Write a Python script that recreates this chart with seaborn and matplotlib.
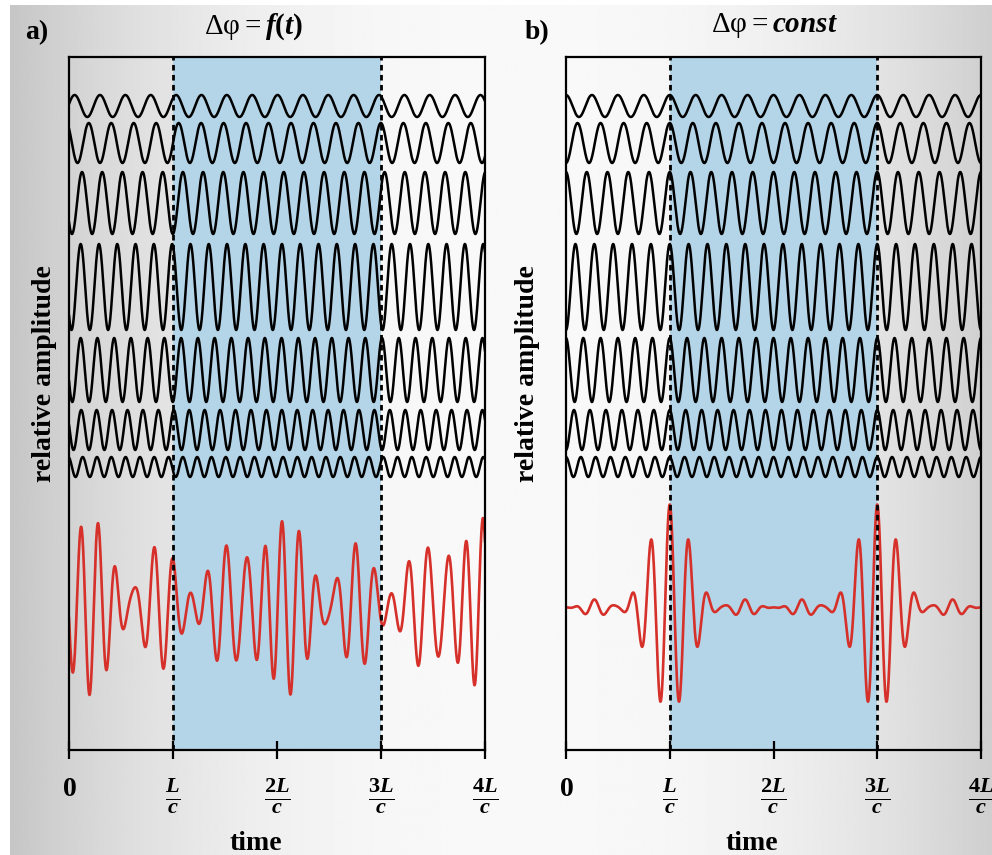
import numpy as np
import pandas as pd
import matplotlib
matplotlib.use('Agg')
import matplotlib.pyplot as plt
import seaborn as sns

# half-heights of the seven black mode traces, top to bottom (px)
mode_amp = [11, 20, 31, 43, 32, 20, 10]

# panel a: free-running modes (frequency in cycles per L/c, phase in rad)
freq_a = [4.1, 4.628, 5.156, 5.684, 6.212, 6.74, 7.268]
phase_a = [4.89, 0.76, 2.22, 2.28, 1.90, 1.30, 0.27]
# weights of each mode in the red sum of panel a (px)
red_amp_a = [12.5, 8.8, 3.7, 45.5, 11.3, 15.6, 12.5]

# panel b: locked modes, all in phase at t = L/c
freq_b = [4.0, 4.5, 5.0, 5.5, 6.0, 6.5, 7.0]
lock_time = 1.0
red_scale_b = 0.62

tick_pos = [0, 1, 2, 3, 4]
tick_labels = [r'$\mathbf{0}$', r'$\frac{\mathit{L}}{\mathit{c}}$',
               r'$\frac{\mathbf{2}\mathit{L}}{\mathit{c}}$',
               r'$\frac{\mathbf{3}\mathit{L}}{\mathit{c}}$',
               r'$\frac{\mathbf{4}\mathit{L}}{\mathit{c}}$']

# layout (vertical positions inside the axes, px from bottom)
wave_base = [644, 607, 547, 463, 380, 320, 283]
red_base_a = 143.6
red_base_b = 142

sns.set_theme(style='white')
plt.rcParams['font.family'] = ['Liberation Serif', 'DejaVu Serif']
plt.rcParams['mathtext.fontset'] = 'custom'
plt.rcParams['mathtext.rm'] = 'Liberation Serif'
plt.rcParams['mathtext.it'] = 'Liberation Serif:italic:bold'
plt.rcParams['mathtext.bf'] = 'Liberation Serif:bold'

W, H = 992, 855
fig = plt.figure(figsize=(W / 100, H / 100), dpi=100, facecolor='white')

# grey backdrop, lighter in the middle
bg = fig.add_axes([10 / W, 0, 1 - 10 / W, 1 - 5 / H], zorder=-5)
xx = np.linspace(10, W, 600)
u = np.abs(xx - 520) / 510
shade = 0.975 - 0.2 * u ** 2.4
bg.imshow(np.tile(shade, (2, 1)), cmap='gray', vmin=0, vmax=1,
          aspect='auto', extent=[0, 1, 0, 1])
bg.axis('off')

t = np.linspace(0, 4, 2400)


def draw_panel(ax, freqs, phases, red):
    ax.set_facecolor('none')
    ax.axvspan(1, 3, color='#b4d4e7', lw=0, zorder=0)
    for A, f, p, base in zip(mode_amp, freqs, phases, wave_base):
        yv = base + A * np.cos(2 * np.pi * f * t + p)
        sns.lineplot(x=t, y=yv, ax=ax, color='black', lw=1.8,
                     estimator=None, sort=False)
    sns.lineplot(x=t, y=red, ax=ax, color='#d6302a', lw=1.9,
                 estimator=None, sort=False)
    for xv in (1, 3):
        ax.axvline(xv, color='black', ls=(0, (2, 1.6)), lw=2.0, zorder=5)
    ax.set_xlim(0, 4)
    ax.set_ylim(0, 693)
    ax.set_yticks([])
    ax.set_xticks(tick_pos)
    ax.set_xticklabels(tick_labels)
    ax.tick_params(axis='x', bottom=True, direction='inout', length=13,
                   width=1.6, pad=13, labelsize=23, colors='black')
    ax.get_xticklabels()[0].set_fontsize(20)
    for s in ax.spines.values():
        s.set_visible(True)
        s.set_color('black')
        s.set_linewidth(1.6)
    ax.set_xlabel('')
    ax.set_ylabel('')


ax_a = fig.add_axes([69 / W, 1 - 750 / H, 416 / W, 693 / H])
ax_b = fig.add_axes([566 / W, 1 - 750 / H, 415 / W, 693 / H])

red_a = red_base_a + sum(R * np.cos(2 * np.pi * f * t + p)
                         for R, f, p in zip(red_amp_a, freq_a, phase_a))
draw_panel(ax_a, freq_a, phase_a, red_a)

phase_b = [-2 * np.pi * f * lock_time for f in freq_b]
red_b = red_base_b + sum(red_scale_b * A * np.cos(2 * np.pi * f * t + p)
                         for A, f, p in zip(mode_amp, freq_b, phase_b))
draw_panel(ax_b, freq_b, phase_b, red_b)

txt = dict(ha='center', va='center', color='black')
fig.text(37 / W, 1 - 33 / H, 'a)', fontsize=20, fontweight='bold', **txt)
fig.text(537 / W, 1 - 33 / H, 'b)', fontsize=20, fontweight='bold', **txt)
fig.text(254 / W, 1 - 27 / H,
         r'$\mathrm{\Delta\varphi} = \mathit{f}\mathbf{(}\mathit{t}\mathbf{)}$',
         fontsize=21, **txt)
fig.text(774 / W, 1 - 25 / H, r'$\mathrm{\Delta\varphi} = \mathit{const}$',
         fontsize=21, **txt)
for xl in (45, 528):
    fig.text(xl / W, 1 - 374 / H, 'relative amplitude', rotation=90,
             fontsize=20, fontweight='bold', **txt)
for xt in (256, 752):
    fig.text(xt / W, 1 - 843 / H, 'time', fontsize=20, fontweight='bold', **txt)

fig.savefig('out.png', dpi=100, facecolor='white')
